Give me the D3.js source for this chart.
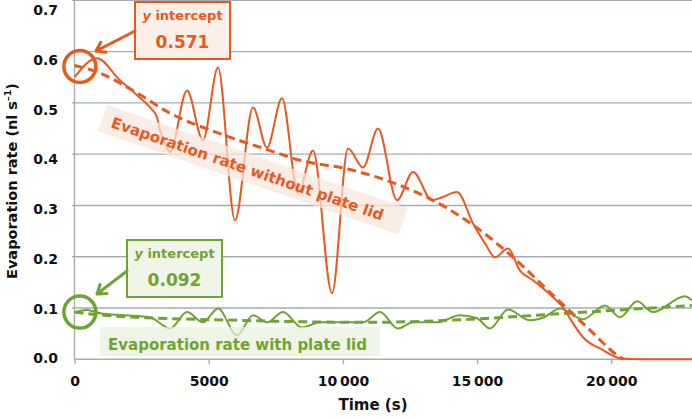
<!DOCTYPE html>
<html><head><meta charset="utf-8">
<script src="https://cdn.jsdelivr.net/npm/d3@7"></script>
<style>
html,body{margin:0;padding:0;background:#fff;}
text{font-family:"DejaVu Sans",sans-serif;font-weight:bold;}
</style></head>
<body><svg id="c" width="692" height="418"></svg>
<script>
// ---- data ----
const yTicks = [0, 0.1, 0.2, 0.3, 0.4, 0.5, 0.6, 0.7];
const xTicks = [0, 5000, 10000, 15000, 20000];
const xTickLabels = ["0", "5000", "10\u2009000", "15\u2009000", "20\u2009000"];

const orangeT = [0, 838, 1695, 2329, 2813, 3074, 3186, 3372, 3558, 4192, 4788, 5347, 5980, 6651, 7173, 7732, 8328, 8887, 9595, 10191, 10750, 11309, 12017, 12613, 13321, 13700, 14252, 14848, 15295, 15667, 16152, 16599, 17084, 17828, 18201, 18574, 18947, 19692, 20325, 21000, 23000];
const orangeV = [0.550, 0.587, 0.544, 0.515, 0.491, 0.472, 0.446, 0.421, 0.404, 0.524, 0.427, 0.569, 0.271, 0.491, 0.413, 0.509, 0.324, 0.407, 0.129, 0.411, 0.374, 0.450, 0.310, 0.365, 0.310, 0.316, 0.326, 0.265, 0.226, 0.199, 0.216, 0.173, 0.154, 0.121, 0.101, 0.070, 0.043, 0.018, 0.002, 0, 0];

const orangeFitT = [0, 950, 2183, 3558, 5422, 7285, 8402, 10265, 12128, 13358, 14848, 16400, 17828, 19208, 20213, 20450];
const orangeFitV = [0.573, 0.558, 0.524, 0.480, 0.440, 0.407, 0.388, 0.370, 0.339, 0.310, 0.262, 0.196, 0.125, 0.057, 0.008, 0];

const greenT = [0, 466, 950, 1882, 2813, 3558, 4192, 4788, 5347, 6055, 6651, 7173, 7769, 8477, 9148, 10154, 10750, 11383, 12054, 12613, 13507, 14364, 14997, 15481, 16152, 16972, 17500, 18090, 18947, 19766, 20325, 20958, 21554, 22747, 23000];
const greenV = [0.092, 0.096, 0.090, 0.086, 0.082, 0.060, 0.092, 0.072, 0.099, 0.047, 0.086, 0.072, 0.092, 0.062, 0.072, 0.072, 0.072, 0.092, 0.060, 0.072, 0.072, 0.086, 0.080, 0.060, 0.097, 0.076, 0.082, 0.099, 0.078, 0.105, 0.082, 0.113, 0.092, 0.123, 0.115];

const greenFitT = [0, 1063, 6055, 11000, 14700, 18425, 23000];
const greenFitV = [0.092, 0.086, 0.076, 0.072, 0.078, 0.090, 0.105];

const orangeIntercept = 0.571;
const greenIntercept = 0.092;

// ---- drawing ----
const ORANGE = "#e9581e", GREEN = "#6fa432", GRID = "#a3aeb4";
const svg = d3.select("#c");
const x = d3.scaleLinear().domain([0, 23000]).range([74.5, 691.8]);
const y = d3.scaleLinear().domain([0, 0.7]).range([359.3, 0.3]);
const yLab = d3.scaleLinear().domain([0, 0.7]).range([358.5, 10]);

// gridlines
svg.append("g").selectAll("line").data(yTicks.filter(d => d > 0)).join("line")
  .attr("x1", 72).attr("x2", 692)
  .attr("y1", d => y(d)).attr("y2", d => y(d))
  .attr("stroke", GRID).attr("stroke-width", 1.4);

// y axis line
svg.append("line").attr("x1", x(0)).attr("x2", x(0)).attr("y1", y(0.7)).attr("y2", y(0))
  .attr("stroke", GRID).attr("stroke-width", 1.4);

// x axis
const xa = svg.append("g").attr("transform", `translate(0,${y(0)})`)
  .call(d3.axisBottom(x).tickValues(xTicks).tickSize(5).tickFormat((d, i) => xTickLabels[i]));
xa.select(".domain").attr("stroke", GRID).attr("stroke-width", 1.4).attr("d", `M${x(0)},0H692`);
xa.selectAll(".tick line").attr("stroke", GRID).attr("stroke-width", 1.4);
xa.selectAll(".tick text").attr("y", 27).attr("dy", 0).attr("font-size", 14)
  .attr("font-family", "DejaVu Sans").attr("font-weight", "bold").attr("fill", "#111");

// y axis labels
const ya = svg.append("g").attr("transform", "translate(58,0)")
  .call(d3.axisLeft(yLab).tickValues(yTicks).tickSize(0).tickPadding(0).tickFormat(d3.format(".1f")));
ya.select(".domain").remove();
ya.selectAll(".tick text").attr("font-size", 14).attr("font-family", "DejaVu Sans")
  .attr("font-weight", "bold").attr("fill", "#111");

// axis titles
svg.append("text").attr("x", 373).attr("y", 410).attr("text-anchor", "middle")
  .attr("font-size", 15).attr("fill", "#111").text("Time (s)");
const yt = svg.append("text").attr("transform", "translate(17,181) rotate(-90)")
  .attr("text-anchor", "middle").attr("font-size", 14.5).attr("fill", "#111");
yt.append("tspan").text("Evaporation rate (nl s");
yt.append("tspan").attr("dy", -6).attr("font-size", 9.5).text("\u20131");
yt.append("tspan").attr("dy", 6).text(")");

// lines
const line = d3.line().x(d => x(d[0])).y(d => y(d[1])).curve(d3.curveMonotoneX);
const zip = (a, b) => a.map((t, i) => [t, b[i]]);

svg.append("path").attr("d", line(zip(greenT, greenV)))
  .attr("fill", "none").attr("stroke", GREEN).attr("stroke-width", 2);
svg.append("path").attr("d", line(zip(greenFitT, greenFitV)))
  .attr("fill", "none").attr("stroke", GREEN).attr("stroke-width", 3).attr("stroke-dasharray", "9,5");
svg.append("path").attr("d", line(zip(orangeT, orangeV)))
  .attr("fill", "none").attr("stroke", ORANGE).attr("stroke-width", 2);
svg.append("path").attr("d", line(zip(orangeFitT, orangeFitV)))
  .attr("fill", "none").attr("stroke", ORANGE).attr("stroke-width", 3).attr("stroke-dasharray", "9,5");

// series labels with translucent backgrounds
const ol = svg.append("g").attr("transform", "translate(110,127) rotate(19)");
ol.append("rect").attr("x", -10).attr("y", -20).attr("width", 318).attr("height", 28)
  .attr("fill", "#f8e6dc").attr("opacity", 0.72);
ol.append("text").attr("x", 0).attr("y", 0).attr("font-size", 15).attr("fill", ORANGE)
  .text("Evaporation rate without plate lid");

const gl = svg.append("g").attr("transform", "translate(108,350)");
gl.append("rect").attr("x", -8).attr("y", -23).attr("width", 280).attr("height", 29)
  .attr("fill", "#e8f0dc").attr("opacity", 0.72);
gl.append("text").attr("x", 0).attr("y", 0).attr("font-size", 15).attr("fill", GREEN)
  .text("Evaporation rate with plate lid");

// callouts
function callout(bx, by, col, fill, val, ax, ay, tx, ty, cy) {
  svg.append("rect").attr("x", bx).attr("y", by).attr("width", 95).attr("height", 57)
    .attr("fill", fill).attr("stroke", col).attr("stroke-width", 2);
  const t1 = svg.append("text").attr("x", bx + 47.5).attr("y", by + 18).attr("text-anchor", "middle")
    .attr("font-size", 13).attr("fill", col);
  t1.append("tspan").attr("font-style", "italic").text("y");
  t1.append("tspan").text(" intercept");
  svg.append("text").attr("x", bx + 47.5).attr("y", by + 46).attr("text-anchor", "middle")
    .attr("font-size", 17).attr("fill", col).text(d3.format(".3f")(val));
  // arrow
  const ang = Math.atan2(ty - ay, tx - ax);
  const L = 10, w = 0.6;
  svg.append("path")
    .attr("d", `M${ax},${ay}L${tx},${ty}M${tx - L * Math.cos(ang - w)},${ty - L * Math.sin(ang - w)}L${tx},${ty}L${tx - L * Math.cos(ang + w)},${ty - L * Math.sin(ang + w)}`)
    .attr("fill", "none").attr("stroke", col).attr("stroke-width", 3).attr("stroke-linecap", "round").attr("stroke-linejoin", "round");
  // circle
  svg.append("circle").attr("cx", x(200)).attr("cy", y(val)).attr("r", 16)
    .attr("fill", "none").attr("stroke", col).attr("stroke-width", 3.5);
}
callout(135, 2, ORANGE, "#fcefe8", orangeIntercept, 135, 31, 96, 51);
callout(127, 240, GREEN, "#f0f5e8", greenIntercept, 127, 271, 97, 294);
</script></body></html>
